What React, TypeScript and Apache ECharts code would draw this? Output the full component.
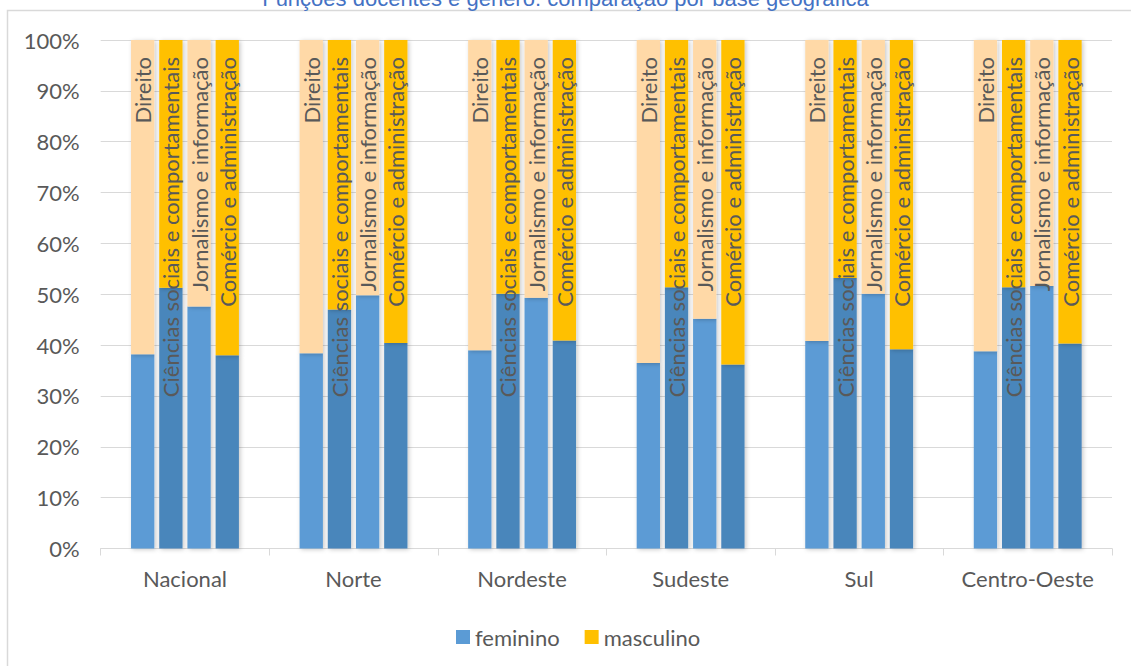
import React, { useEffect, useRef } from "react";
import * as echarts from "echarts";

const titleText = "Funções docentes e gênero: comparação por base geográfica";
const categories = ["Nacional", "Norte", "Nordeste", "Sudeste", "Sul", "Centro-Oeste"];
const areas = [
  "Direito",
  "Ciências sociais e comportamentais",
  "Jornalismo e informação",
  "Comércio e administração",
];
const yTicks = [0, 10, 20, 30, 40, 50, 60, 70, 80, 90, 100];

// feminino (%) by area, per region
const femininoDireito = [38.2, 38.4, 39.0, 36.5, 40.8, 38.8];
const femininoCiencias = [51.3, 47.0, 50.1, 51.4, 53.2, 51.4];
const femininoJornalismo = [47.6, 49.8, 49.3, 45.2, 50.1, 51.6];
const femininoComercio = [38.0, 40.4, 40.9, 36.2, 39.2, 40.3];

// masculino (%) by area, per region
const masculinoDireito = [61.8, 61.6, 61.0, 63.5, 59.2, 61.2];
const masculinoCiencias = [48.7, 53.0, 49.9, 48.6, 46.8, 48.6];
const masculinoJornalismo = [52.4, 50.2, 50.7, 54.8, 49.9, 48.4];
const masculinoComercio = [62.0, 59.6, 59.1, 63.8, 60.8, 59.7];

const femData = [femininoDireito, femininoCiencias, femininoJornalismo, femininoComercio];
const mascData = [masculinoDireito, masculinoCiencias, masculinoJornalismo, masculinoComercio];

const femColors = ["#5B9BD5", "#4A86BB", "#5B9BD5", "#4A86BB"];
const mascColors = ["#FFD9A7", "#FFC000", "#FFD9A7", "#FFC000"];

const FONT = "Lato, 'Open Sans', sans-serif";
const TEXT = "#595959";
const GRID = "#D9D9D9";

export default function App() {
  const ref = useRef<HTMLDivElement>(null);

  useEffect(() => {
    if (!ref.current) return;
    const chart = echarts.init(ref.current, null, { renderer: "svg" });

    const shadow = {
      shadowColor: "rgba(0,0,0,0.22)",
      shadowBlur: 4,
      shadowOffsetX: 1.5,
      shadowOffsetY: 1,
    };

    const series: any[] = [];
    areas.forEach((area, i) => {
      series.push({
        name: "feminino",
        type: "bar",
        stack: "s" + i,
        barWidth: 23.3,
        barGap: "21%",
        data: femData[i],
        itemStyle: { color: femColors[i], ...shadow },
        emphasis: { disabled: true },
      });
      series.push({
        name: "masculino",
        type: "bar",
        stack: "s" + i,
        barWidth: 23.3,
        barGap: "21%",
        data: mascData[i],
        itemStyle: { color: mascColors[i], ...shadow },
        emphasis: { disabled: true },
        label: {
          show: true,
          formatter: area,
          position: "insideTop",
          rotate: 90,
          align: "right",
          verticalAlign: "middle",
          distance: 17,
          color: TEXT,
          fontSize: 22,
          fontFamily: FONT,
        },
      });
    });

    chart.setOption({
      animation: false,
      title: {
        text: titleText,
        left: "center",
        top: -13,
        padding: 0,
        textStyle: {
          color: "#4472C4",
          fontSize: 22,
          fontWeight: "normal",
          fontFamily: "'Liberation Sans', Arial, sans-serif",
        },
      },
      graphic: [
        {
          type: "rect",
          shape: { x: 7.5, y: 10.5, width: 1300, height: 800 },
          style: { fill: "none", stroke: GRID, lineWidth: 1.5 },
          silent: true,
          z: -10,
        },
      ],
      legend: {
        data: [
          { name: "feminino", itemStyle: { color: "#5B9BD5" } },
          { name: "masculino", itemStyle: { color: "#FFC000" } },
        ],
        left: 451,
        top: 621,
        icon: "rect",
        itemWidth: 14,
        itemHeight: 14,
        itemGap: 25,
        textStyle: { color: TEXT, fontSize: 22, fontFamily: FONT },
      },
      grid: { left: 100.7, right: 19, top: 40, bottom: 117.5, containLabel: false },
      xAxis: {
        type: "category",
        data: categories,
        axisLine: { lineStyle: { color: GRID, width: 1 } },
        axisTick: { show: true, length: 7, lineStyle: { color: GRID } },
        axisLabel: { color: TEXT, fontSize: 22, fontFamily: FONT, margin: 19, interval: 0 },
      },
      yAxis: {
        type: "value",
        min: yTicks[0],
        max: yTicks[yTicks.length - 1],
        interval: 10,
        axisLine: { show: false },
        axisTick: { show: false },
        axisLabel: {
          color: TEXT,
          fontSize: 22,
          fontFamily: FONT,
          margin: 21,
          formatter: "{value}%",
        },
        splitLine: { lineStyle: { color: GRID, width: 1 } },
      },
      series,
    });

    return () => chart.dispose();
  }, []);

  return (
    <div
      ref={ref}
      style={{ position: "fixed", left: 0, top: 0, width: 1131, height: 666, background: "#fff" }}
    />
  );
}
